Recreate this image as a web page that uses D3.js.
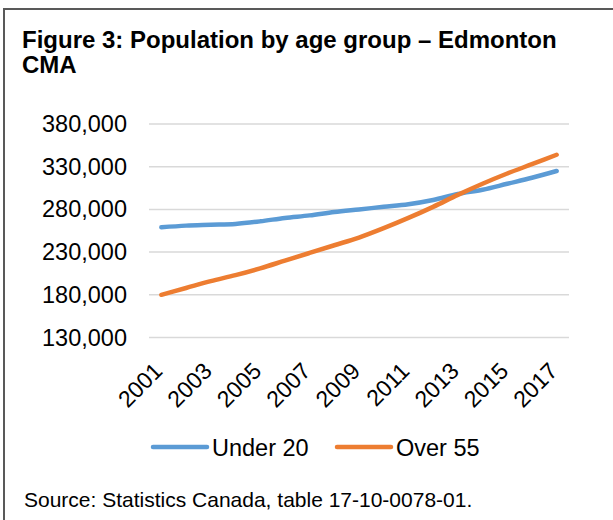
<!DOCTYPE html>
<html>
<head>
<meta charset="utf-8">
<script src="https://cdn.jsdelivr.net/npm/d3@7"></script>
<style>
  html, body { margin: 0; padding: 0; background: #fff; }
  svg { display: block; font-family: "Liberation Sans", Arial, sans-serif; }
</style>
</head>
<body>
<div id="chart"></div>
<script>
  // data (thousands of people)
  const years = [2001, 2002, 2003, 2004, 2005, 2006, 2007, 2008, 2009,
                 2010, 2011, 2012, 2013, 2014, 2015, 2016, 2017];
  const under20 = [259, 261, 262, 263, 266, 270, 273, 277, 280,
                   283, 286, 291, 298, 303, 310, 317, 325];
  const over55 = [180, 188, 196, 203, 211, 220, 229, 238, 247,
                  258, 270, 283, 297, 310, 322, 333, 344];
  const yTicks = [130000, 180000, 230000, 280000, 330000, 380000];
  const seriesNames = ['Under 20', 'Over 55'];
  const seriesColors = ['#5B9BD5', '#ED7D31'];

  const width = 613, height = 520;
  const font = '"Liberation Sans", Arial, sans-serif';

  const svg = d3.select('#chart').append('svg')
    .attr('width', width)
    .attr('height', height);

  // outer frame (left + top only visible)
  svg.append('path')
    .attr('d', `M4,${height + 5} V9 H${width + 5}`)
    .attr('fill', 'none')
    .attr('stroke', '#595959')
    .attr('stroke-width', 2);

  // title
  const title = svg.append('text')
    .attr('x', 22)
    .attr('y', 47.5)
    .attr('font-size', 24)
    .attr('font-weight', 'bold')
    .attr('fill', '#000');
  title.append('tspan').attr('x', 22).text('Figure 3: Population by age group \u2013 Edmonton');
  title.append('tspan').attr('x', 22).attr('dy', 25.5).text('CMA');

  const x = d3.scalePoint()
    .domain(years)
    .range([149, 569])
    .padding(0.5);

  const y = d3.scaleLinear()
    .domain([130000, 380000])
    .range([337.5, 124]);

  // gridlines
  svg.append('g')
    .selectAll('line')
    .data(yTicks)
    .join('line')
    .attr('x1', 149)
    .attr('x2', 569)
    .attr('y1', d => y(d))
    .attr('y2', d => y(d))
    .attr('stroke', '#d9d9d9')
    .attr('stroke-width', 1.5);

  // y axis labels
  const yAxis = svg.append('g')
    .attr('transform', 'translate(149,0)')
    .call(d3.axisLeft(y).tickValues(yTicks).tickSize(0).tickPadding(22)
      .tickFormat(d3.format(',')));
  yAxis.select('.domain').remove();
  yAxis.selectAll('text')
    .attr('font-size', 23.5)
    .attr('font-family', font)
    .attr('fill', '#000');

  // x axis labels, every other year, rotated
  const xAxis = svg.append('g')
    .attr('transform', 'translate(0,337.5)')
    .call(d3.axisBottom(x)
      .tickValues(years.filter((d, i) => i % 2 === 0))
      .tickSize(0)
      .tickFormat(d3.format('d')));
  xAxis.select('.domain').remove();
  xAxis.selectAll('text')
    .attr('font-size', 23)
    .attr('font-family', font)
    .attr('fill', '#000')
    .attr('text-anchor', 'end')
    .attr('dy', null)
    .attr('y', 0)
    .attr('transform', 'translate(2,35) rotate(-45)');

  // lines
  const line = d3.line()
    .x((d, i) => x(years[i]))
    .y(d => y(d * 1000))
    .curve(d3.curveMonotoneX);

  [under20, over55].forEach((values, i) => {
    svg.append('path')
      .datum(values)
      .attr('d', line)
      .attr('fill', 'none')
      .attr('stroke', seriesColors[i])
      .attr('stroke-width', 4.5)
      .attr('stroke-linecap', 'round')
      .attr('stroke-linejoin', 'round');
  });

  // legend
  const legendX = [153, 337];
  seriesNames.forEach((name, i) => {
    const g = svg.append('g').attr('transform', `translate(${legendX[i]},447)`);
    g.append('line')
      .attr('x1', 0).attr('x2', 54)
      .attr('stroke', seriesColors[i])
      .attr('stroke-width', 4.5)
      .attr('stroke-linecap', 'round');
    g.append('text')
      .attr('x', 59)
      .attr('y', 8.5)
      .attr('font-size', 23.5)
      .attr('fill', '#000')
      .text(name);
  });

  // source
  svg.append('text')
    .attr('x', 24)
    .attr('y', 506.5)
    .attr('font-size', 21)
    .attr('fill', '#000')
    .text('Source: Statistics Canada, table 17-10-0078-01.');
</script>
</body>
</html>
